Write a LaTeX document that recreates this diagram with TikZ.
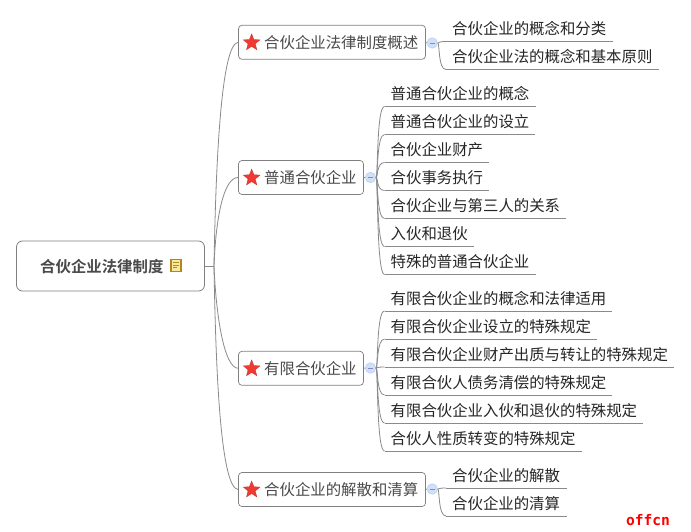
\documentclass[tikz,border=0pt]{standalone}
\usepackage{fontspec}
\setmainfont{Liberation Sans}
\newfontfamily\cjk{Noto Sans CJK SC}
\newfontfamily\cjkb{Noto Sans CJK SC Bold}
\newfontfamily\wm{DejaVu Sans Mono}
\usetikzlibrary{shapes.geometric,calc}
\definecolor{edgecol}{HTML}{8A8A8A}
\definecolor{boxcol}{HTML}{808080}
\definecolor{textcol}{HTML}{4A4A4A}
\definecolor{starfill}{HTML}{EE3A32}
\definecolor{stardraw}{HTML}{C8302A}
\definecolor{togglefill}{HTML}{CFE0F8}
\definecolor{toggledraw}{HTML}{BCD0F0}
\definecolor{notedraw}{HTML}{B08A18}
\definecolor{notefill}{HTML}{F8E8A0}
\tikzset{
  rootbox/.style={draw=boxcol,line width=0.8pt,rounded corners=6pt,fill=white,inner sep=0pt},
  topicbox/.style={draw=boxcol,line width=0.7pt,rounded corners=3.5pt,fill=white,inner sep=0pt},
  topictext/.style={inner sep=0pt,anchor=west,text=textcol,font=\fontsize{15.4}{18}\cjk},
  roottext/.style={inner sep=0pt,anchor=west,text=textcol,font=\fontsize{15.4}{18}\cjkb},
  leaftext/.style={inner sep=0pt,anchor=west,text=black!85,font=\fontsize{15.4}{18}\cjk},
  conn/.style={draw=edgecol,line width=0.8pt},
  under/.style={draw=edgecol,line width=0.8pt},
  starmark/.style={star,star points=5,star point ratio=2.3,minimum size=17.5pt,inner sep=0pt,fill=starfill,draw=stardraw,line width=0.3pt},
  toggle/.style={circle,minimum size=10.5pt,inner sep=0pt,fill=togglefill,draw=toggledraw,line width=0.6pt},
}
\newcommand{\fanleaf}[6]{% name, toggle, line x0, line x1, y, text
  \coordinate (#1a) at (#3,-#5);
  \coordinate (#1b) at (#4,-#5);
  \node[leaftext] (#1) at (#3+6,-#5+12.5) {#6};
  \draw[under] (#1a) -- (#1b);
  \draw[conn] (#2.east) .. controls ($(#2.east)+(2,0)$) and ($(#1a)+(-8,0)$) .. (#1a);
}
\begin{document}
\begin{tikzpicture}[x=1pt,y=1pt]
\useasboundingbox (0,0) rectangle (691,-532);
\fill[white] (0,0) rectangle (691,-532);

\coordinate (hub) at (214,-266);

% root
\node[rootbox,minimum width=188pt,minimum height=50pt] (root) at (110.5,-266) {};
\node[roottext] (roott) at (40,-266.7) {合伙企业法律制度};
\node[inner sep=0pt,minimum width=10pt,minimum height=11.5pt,draw=notedraw,fill=notefill,line width=1.1pt] (note) at (176,-265.5) {};
\draw[notedraw,line width=0.6pt] (173,-262.5) -- (179,-262.5) (173,-265) -- (179,-265) (173,-267.5) -- (177,-267.5);

% topics
\node[topicbox,minimum width=187pt,minimum height=34pt] (t1) at (332,-42.3) {};
\node[topicbox,minimum width=125pt,minimum height=34pt] (t2) at (301,-177.5) {};
\node[topicbox,minimum width=125pt,minimum height=34pt] (t3) at (301,-368.3) {};
\node[topicbox,minimum width=187pt,minimum height=34pt] (t4) at (332,-489.5) {};

\foreach \t in {t1,t2,t3,t4}{\node[starmark] (s\t) at ([xshift=13.5pt,yshift=-0.3pt]\t.west) {};}
\node[topictext] (t1t) at (264,-42.5) {合伙企业法律制度概述};
\node[topictext] (t2t) at (264,-177.5) {普通合伙企业};
\node[topictext] (t3t) at (264,-368.5) {有限合伙企业};
\node[topictext] (t4t) at (264,-489.5) {合伙企业的解散和清算};

% root connectors
\draw[conn] (root.east) -- (hub);
\draw[conn] (hub) .. controls (216,-150) and (222,-44) .. (t1.west);
\draw[conn] (hub) .. controls (216,-215) and (224,-177.5) .. (t2.west);
\draw[conn] (hub) .. controls (216,-315) and (224,-368) .. (t3.west);
\draw[conn] (hub) .. controls (216,-390) and (222,-488) .. (t4.west);

% toggles
\node[toggle] (c1) at (432.2,-43) {};
\node[toggle] (c2) at (370.5,-177.5) {};
\node[toggle] (c3) at (370.5,-368) {};
\node[toggle] (c4) at (432.2,-489) {};
\draw[conn] (t1.east) -- (c1.west);
\draw[conn] (t2.east) -- (c2.west);
\draw[conn] (t3.east) -- (c3.west);
\draw[conn] (t4.east) -- (c4.west);
\foreach \c in {c1,c2,c3,c4}{\draw[blue!35!gray!70,line width=0.6pt] ([xshift=-2.6pt]\c.center) -- ([xshift=2.6pt]\c.center);}

% leaves
\fanleaf{l11}{c1}{446}{613}{41.5}{合伙企业的概念和分类}
\fanleaf{l12}{c1}{446}{659}{69.5}{合伙企业法的概念和基本原则}

\fanleaf{l21}{c2}{384.5}{536}{106.5}{普通合伙企业的概念}
\fanleaf{l22}{c2}{384.5}{535}{134.5}{普通合伙企业的设立}
\fanleaf{l23}{c2}{384.5}{489}{162.5}{合伙企业财产}
\fanleaf{l24}{c2}{384.5}{489}{190.5}{合伙事务执行}
\fanleaf{l25}{c2}{384.5}{566}{218.5}{合伙企业与第三人的关系}
\fanleaf{l26}{c2}{384.5}{474}{246.5}{入伙和退伙}
\fanleaf{l27}{c2}{384.5}{536}{274.5}{特殊的普通合伙企业}

\fanleaf{l31}{c3}{384.5}{612}{311}{有限合伙企业的概念和法律适用}
\fanleaf{l32}{c3}{384.5}{597}{339}{有限合伙企业设立的特殊规定}
\fanleaf{l33}{c3}{384.5}{674}{367}{有限合伙企业财产出质与转让的特殊规定}
\fanleaf{l34}{c3}{384.5}{612}{395}{有限合伙人债务清偿的特殊规定}
\fanleaf{l35}{c3}{384.5}{643}{423}{有限合伙企业入伙和退伙的特殊规定}
\fanleaf{l36}{c3}{384.5}{582}{451}{合伙人性质转变的特殊规定}

\fanleaf{l41}{c4}{446}{567}{488}{合伙企业的解散}
\fanleaf{l42}{c4}{446}{567}{516}{合伙企业的清算}

% watermark
\node[inner sep=0pt,text=red,font=\fontsize{14.6}{16}\wm\bfseries] (wm) at (648,-520) {offcn};
\end{tikzpicture}
\end{document}
